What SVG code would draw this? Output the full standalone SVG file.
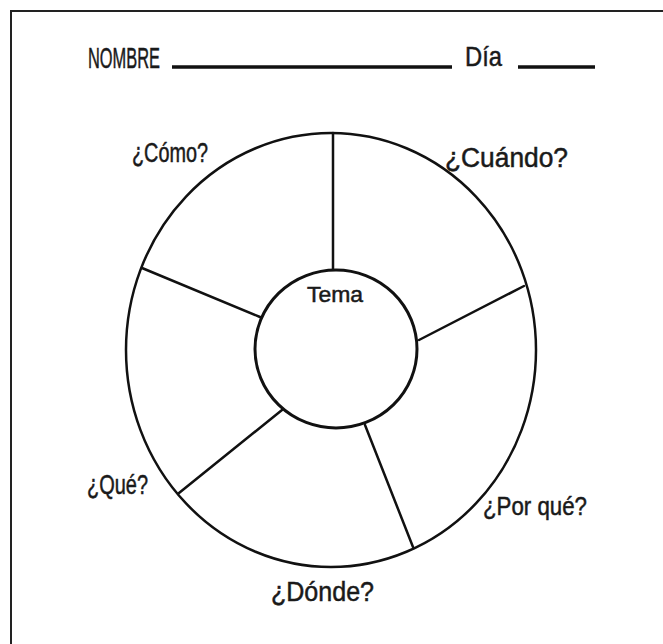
<svg xmlns="http://www.w3.org/2000/svg" width="663" height="644" viewBox="0 0 663 644">
<style>
.t{font-family:"Liberation Sans","DejaVu Sans",sans-serif;fill:#1a1a1a;stroke:#1a1a1a;stroke-width:0.5;}
.ln{stroke:#111;stroke-width:2.5;fill:none;stroke-linecap:round;}
.hd{stroke:#111;stroke-width:3.5;fill:none;}
</style>
<rect x="0" y="0" width="663" height="644" fill="#fff"/>
<path d="M11 644 V11 H663" stroke="#222" stroke-width="2" fill="none"/>
<g id="header">
<text class="t" x="88" y="68" font-size="30" textLength="72" lengthAdjust="spacingAndGlyphs">NOMBRE</text>
<line class="hd" x1="172" y1="67" x2="452" y2="67"/>
<text class="t" x="465" y="66" font-size="28" textLength="37" lengthAdjust="spacingAndGlyphs">Día</text>
<line class="hd" x1="518" y1="67" x2="595" y2="67"/>
</g>
<g id="wheel">
<ellipse class="ln" cx="331" cy="350" rx="205" ry="217"/>
</g>
<g id="connectors">
<line class="ln" x1="333" y1="133" x2="333" y2="270"/>
<line class="ln" x1="419" y1="340" x2="524" y2="286"/>
<line class="ln" x1="365" y1="425" x2="413" y2="547"/>
<line class="ln" x1="282" y1="410" x2="179" y2="493"/>
<line class="ln" x1="260" y1="317" x2="142" y2="268"/>
</g>
<g id="tema">
<ellipse cx="336" cy="349" rx="81" ry="79" fill="#fff" stroke="#111" stroke-width="3"/>
<text class="t" x="307" y="302" font-size="22" textLength="56" lengthAdjust="spacingAndGlyphs">Tema</text>
</g>
<g id="como"><text class="t" x="132" y="162" font-size="27" textLength="76" lengthAdjust="spacingAndGlyphs">¿Cómo?</text></g>
<g id="cuando"><text class="t" x="445" y="167" font-size="27" textLength="123" lengthAdjust="spacingAndGlyphs">¿Cuándo?</text></g>
<g id="que"><text class="t" x="87" y="494" font-size="28" textLength="61" lengthAdjust="spacingAndGlyphs">¿Qué?</text></g>
<g id="porque"><text class="t" x="483" y="515" font-size="26" textLength="104" lengthAdjust="spacingAndGlyphs">¿Por qué?</text></g>
<g id="donde"><text class="t" x="271" y="601" font-size="27" textLength="103" lengthAdjust="spacingAndGlyphs">¿Dónde?</text></g>
</svg>
